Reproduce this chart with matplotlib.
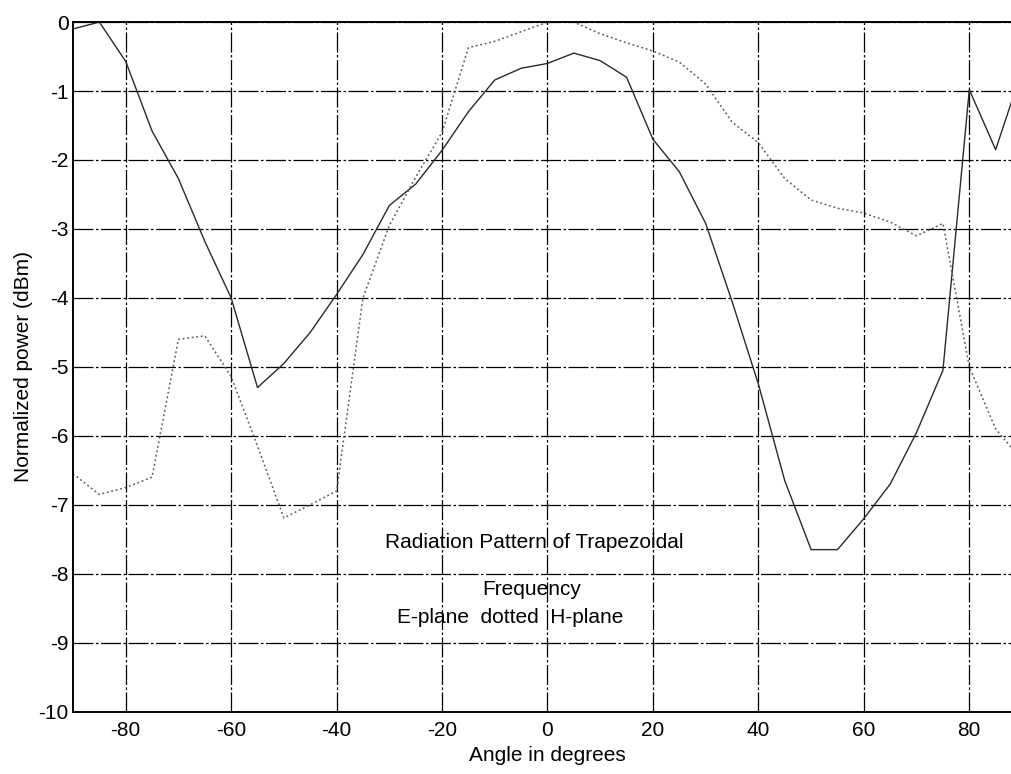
import numpy as np
import matplotlib
matplotlib.use('Agg')
import matplotlib.pyplot as plt

#----------------------------------------------------------------data

# E-plane (solid)
ang_e = [-90, -85, -80, -75, -70, -65, -60, -55, -50, -45, -40, -35, -30, -25, -20, -15, -10, -5, 0,
         5, 10, 15, 20, 25, 30, 35, 40, 45, 50, 55, 60, 65, 70, 75, 80, 85, 90]
pow_e = [-0.1, 0.0, -0.57, -1.58, -2.27, -3.18, -4.0, -5.3, -4.95, -4.5, -3.95, -3.37, -2.66, -2.35, -1.86, -1.3, -0.84, -0.67, -0.6,
         -0.45, -0.56, -0.8, -1.7, -2.17, -2.92, -4.05, -5.25, -6.65, -7.65, -7.65, -7.2, -6.7, -5.95, -5.05, -0.98, -1.85, -0.7]

# H-plane (dotted)
ang_h = [-90, -85, -80, -75, -70, -65, -60, -55, -50, -45, -40, -35, -30, -25, -20, -15, -10, -5, 0,
         5, 10, 15, 20, 25, 30, 35, 40, 45, 50, 55, 60, 65, 70, 75, 80, 85, 90]
pow_h = [-6.55, -6.85, -6.75, -6.6, -4.6, -4.55, -5.14, -6.15, -7.19, -7.0, -6.8, -4.0, -2.95, -2.25, -1.6, -0.37, -0.28, -0.14, 0.0,
         0.0, -0.17, -0.3, -0.42, -0.58, -0.9, -1.45, -1.75, -2.27, -2.58, -2.7, -2.77, -2.9, -3.1, -2.92, -5.0, -5.9, -6.35]

xticks = [-80, -60, -40, -20, 0, 20, 40, 60, 80]
yticks = [0, -1, -2, -3, -4, -5, -6, -7, -8, -9, -10]

#----------------------------------------------------------------plot

plt.rcParams['font.family'] = ['Liberation Sans', 'DejaVu Sans']
plt.rcParams['font.size'] = 15

fig = plt.figure(figsize=(10.12, 7.74), dpi=100)
# right edge of the axes runs past the figure border
ax = fig.add_axes([0.0721, 0.0805, 0.9378, 0.891])

ax.plot(ang_e, pow_e, color='#2a2a2a', lw=1.0, ls='-')
ax.plot(ang_h, pow_h, color='#5a5a5a', lw=1.1, ls=(0, (1.2, 1.8)))

ax.set_xlim(-90, 90)
ax.set_ylim(-10, 0)
ax.set_xticks(xticks)
ax.set_yticks(yticks)
ax.set_xticklabels([str(t) for t in xticks])
ax.set_yticklabels([str(t) for t in yticks])
ax.tick_params(axis='x', direction='in', length=0, pad=7)
ax.tick_params(axis='y', direction='in', length=0, pad=3)

ax.grid(True, color='black', lw=0.9, ls=(0, (16, 2, 2, 2)))
for s in ax.spines.values():
  s.set_linewidth(1.4)
  s.set_color('black')

ax.set_xlabel('Angle in degrees', labelpad=4)
ax.set_ylabel('Normalized power (dBm)', labelpad=4)

ax.text(-2.5, -7.55, 'Radiation Pattern of Trapezoidal', ha='center', va='center')
ax.text(-3.0, -8.23, 'Frequency', ha='center', va='center')
ax.text(-7.0, -8.64, 'E-plane  dotted  H-plane', ha='center', va='center')

fig.savefig('out.png', dpi=100)
